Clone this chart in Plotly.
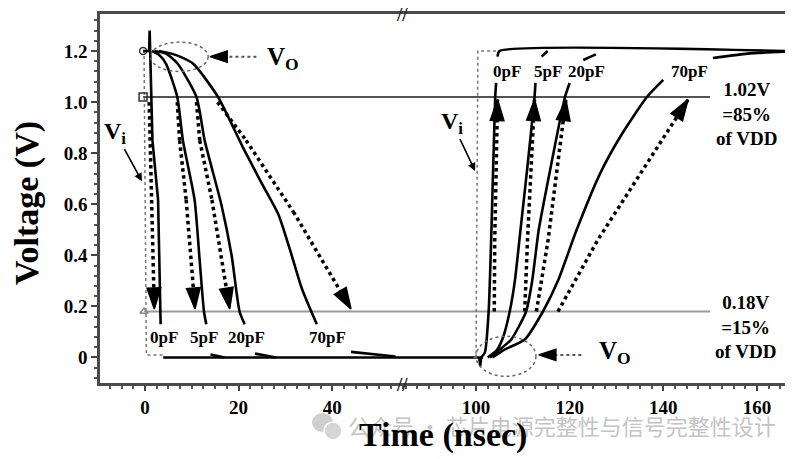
import plotly.graph_objects as go

# ---------------- data (time in ns, voltage in V) ----------------
# falling edge (left panel)
fall_0pF_t = [-0.4, 0.9, 1.0, 1.3, 1.6, 2.8, 3.05, 3.35]
fall_0pF_v = [1.2, 1.2, 1.28, 1.02, 0.85, 0.617, 0.4, 0.13]
fall_5pF_t = [1.5, 3.0, 4.5, 6.9, 8.1, 10.6, 11.6, 12.6, 13.1]
fall_5pF_v = [1.2, 1.185, 1.15, 1.02, 0.85, 0.617, 0.4, 0.18, 0.13]
fall_20pF_t = [2.0, 4.5, 7.0, 11.0, 12.75, 16.3, 18.5, 20.2, 21.3]
fall_20pF_v = [1.2, 1.19, 1.15, 1.02, 0.85, 0.6, 0.4, 0.18, 0.13]
fall_70pF_t = [3.0, 6.5, 10.3, 15.6, 21.0, 25.0, 28.5, 31.0, 33.5, 36.7]
fall_70pF_v = [1.2, 1.185, 1.15, 1.02, 0.82, 0.68, 0.56, 0.42, 0.27, 0.13]

tail_5pF_t = [14.0, 17.0]
tail_5pF_v = [0.012, 0.0]
tail_20pF_t = [23.5, 28.0]
tail_20pF_v = [0.015, 0.0]
tail_70pF_t = [44.0, 53.5]
tail_70pF_v = [0.022, 0.004]

low_t = [3.9, 100.7, 100.9, 101.1, 101.5]
low_v = [0.0, 0.0, -0.035, 0.0, 0.0]

# rising edge (right panel)
rise_0pF_t = [101.1, 101.9, 102.7, 103.3, 104.1, 104.3, None, 104.6, 105.0, 166.0]
rise_0pF_v = [0.0, 0.02, 0.18, 0.5, 1.02, 1.075, None, 1.178, 1.2, 1.2]
rise_5pF_t = [102.5, 104.5, 105.8, 107.2, 108.3, 109.5, 111.0, 112.5, 112.7, None, 114.0, 115.3]
rise_5pF_v = [0.0, 0.03, 0.08, 0.18, 0.3, 0.5, 0.75, 1.02, 1.075, None, 1.178, 1.2]
rise_20pF_t = [103.0, 105.0, 107.5, 110.7, 112.0, 113.4, 116.0, 119.0, 120.0, None, 122.9, 125.6]
rise_20pF_v = [0.0, 0.03, 0.07, 0.18, 0.3, 0.5, 0.75, 1.02, 1.075, None, 1.165, 1.187]
rise_70pF_t = [103.5, 106.0, 110.4, 114.3, 117.5, 121.5, 126.5, 131.0, 136.5, 140.0, None, 150.6, 158.0, 166.0]
rise_70pF_v = [0.0, 0.03, 0.07, 0.18, 0.3, 0.5, 0.72, 0.87, 1.02, 1.087, None, 1.173, 1.19, 1.197]

# input waveforms
vi_fall_t = [-0.4, -0.2, 0.3, 3.8]
vi_fall_v = [1.2, 1.2, 0.01, 0.01]
vi_rise_t = [99.5, 100.0, 100.4, 104.7]
vi_rise_v = [0.0, 0.0, 1.2, 1.2]

# thresholds
thr_hi_t = [-0.4, 150.0]
thr_hi_v = [1.02, 1.02]
thr_lo_t = [-0.2, 150.0]
thr_lo_v = [0.18, 0.18]

# dotted delay arrows
arr_fall = {
    "0pF": ([0.9, 1.5, 2.0], [1.0, 0.6, 0.19]),
    "5pF": ([6.9, 7.4, 8.8, 10.7], [1.0, 0.85, 0.617, 0.19]),
    "20pF": ([11.0, 11.7, 14.3, 18.1], [1.0, 0.85, 0.617, 0.19]),
    "70pF": ([15.5, 21.6, 31.7, 44.0], [1.0, 0.85, 0.57, 0.19]),
}
arr_rise = {
    "0pF": ([103.9, 104.0, 104.6], [0.18, 0.46, 1.01]),
    "5pF": ([110.4, 111.0, 112.5], [0.18, 0.46, 1.01]),
    "20pF": ([112.9, 115.4, 119.2], [0.18, 0.46, 1.01]),
    "70pF": ([117.5, 126.0, 145.3], [0.18, 0.46, 1.01]),
}

cap_labels = ["0pF", "5pF", "20pF", "70pF"]
fall_label_t = [4.1, 12.6, 21.6, 38.9]
rise_label_t = [106.6, 115.4, 123.7, 145.5]
fall_label_v = 0.079
rise_label_v = 1.12

left_ticks = [0, 20, 40]
right_ticks = [100, 120, 140, 160]
y_ticks = [0, 0.2, 0.4, 0.6, 0.8, 1.0, 1.2]
y_tick_text = ["0", "0.2", "0.4", "0.6", "0.8", "1.0", "1.2"]

SERIF = "Liberation Serif, Times New Roman, serif"
BLACK = "#000000"

fig = go.Figure()


def add(t, v, xa, **kw):
    fig.add_trace(go.Scatter(x=t, y=v, xaxis=xa, yaxis="y", showlegend=False,
                             hoverinfo="skip", **kw))


# threshold lines and baseline (both panels)
for xa in ["x", "x2"]:
    add(thr_lo_t, thr_lo_v, xa, mode="lines", line=dict(color="#999999", width=2.2))
    add(thr_hi_t, thr_hi_v, xa, mode="lines", line=dict(color="#1a1a1a", width=1.6))
    add(low_t, low_v, xa, mode="lines", line=dict(color=BLACK, width=2.6))

add(vi_fall_t, vi_fall_v, "x", mode="lines", line=dict(color="#777777", width=1.5, dash="dot"))
add(vi_rise_t, vi_rise_v, "x2", mode="lines", line=dict(color="#777777", width=1.5, dash="dot"))

# start markers
add([thr_hi_t[0]], [thr_hi_v[0]], "x", mode="markers",
    marker=dict(symbol="square-open", size=8, color="#333333", line=dict(width=1.5)))
add([fall_0pF_t[0]], [fall_0pF_v[0]], "x", mode="markers",
    marker=dict(symbol="circle-open", size=7, color="#333333", line=dict(width=1.5)))
add([thr_lo_t[0]], [thr_lo_v[0]], "x", mode="markers",
    marker=dict(symbol="triangle-up-open", size=7, color="#888888", line=dict(width=1.5)))

# output curves
add(fall_0pF_t, fall_0pF_v, "x", mode="lines", line=dict(color=BLACK, width=2.6))
for t, v in [(fall_5pF_t, fall_5pF_v), (fall_20pF_t, fall_20pF_v), (fall_70pF_t, fall_70pF_v)]:
    add(t, v, "x", mode="lines", line=dict(color=BLACK, width=2.6, shape="spline", smoothing=0.6))
for t, v in [(tail_5pF_t, tail_5pF_v), (tail_20pF_t, tail_20pF_v), (tail_70pF_t, tail_70pF_v)]:
    add(t, v, "x", mode="lines", line=dict(color=BLACK, width=2.6))
for t, v in [(rise_0pF_t, rise_0pF_v), (rise_5pF_t, rise_5pF_v),
             (rise_20pF_t, rise_20pF_v), (rise_70pF_t, rise_70pF_v)]:
    add(t, v, "x2", mode="lines", line=dict(color=BLACK, width=2.6, shape="spline", smoothing=0.6))


def dotted_arrow(t, v, xa, color=BLACK, width=3.5, head=22):
    n = len(t)
    add(t, v, xa, mode="lines+markers",
        line=dict(color=color, width=width, dash="dot"),
        marker=dict(symbol="arrow", size=[0] * (n - 1) + [head], angleref="previous",
                    color=BLACK, opacity=1, line=dict(width=1.5, color=BLACK)))


for k in cap_labels:
    dotted_arrow(*arr_fall[k], "x")
    dotted_arrow(*arr_rise[k], "x2")

# arrows pointing to the V_O ellipses
vo_left_arrow_t = [23.8, 13.9]
vo_left_arrow_v = [1.178, 1.178]
vo_right_arrow_t = [122.5, 113.4]
vo_right_arrow_v = [0.01, 0.01]
dotted_arrow(vo_left_arrow_t, vo_left_arrow_v, "x", color="#555555", width=2, head=18)
dotted_arrow(vo_right_arrow_t, vo_right_arrow_v, "x2", color="#555555", width=2, head=18)

# ellipses
fig.add_shape(type="circle", xref="x", yref="y", x0=1.2, x1=13.5, y0=1.12, y1=1.235,
              line=dict(color="#666666", width=1.5, dash="dot"))
fig.add_shape(type="circle", xref="x2", yref="y", x0=100.0, x1=112.8, y0=-0.074, y1=0.083,
              line=dict(color="#666666", width=1.5, dash="dot"))

# annotations
ann = []
lab_font = dict(family=SERIF, size=17, color=BLACK, weight="bold")
for name, t in zip(cap_labels, fall_label_t):
    ann.append(dict(x=t, y=fall_label_v, xref="x", yref="y", text=name, showarrow=False,
                    xanchor="center", yanchor="middle", font=lab_font))
for name, t in zip(cap_labels, rise_label_t):
    ann.append(dict(x=t, y=rise_label_v, xref="x2", yref="y", text=name, showarrow=False,
                    xanchor="center", yanchor="middle", font=lab_font))

big = dict(family=SERIF, size=25, color=BLACK, weight="bold")
ann.append(dict(x=25.6, y=1.17, xref="x", yref="y", text="V<sub>O</sub>", showarrow=False,
                xanchor="left", yanchor="middle", font=big))
ann.append(dict(x=125.9, y=0.02, xref="x2", yref="y", text="V<sub>O</sub>", showarrow=False,
                xanchor="left", yanchor="middle", font=big))
ann.append(dict(x=-0.65, y=0.69, xref="x", yref="y", ax=-6.3, ay=0.88, axref="x", ayref="y",
                text="V<sub>i</sub>", showarrow=True, arrowhead=2, arrowsize=1, arrowwidth=1.6,
                arrowcolor=BLACK, font=dict(family=SERIF, size=24, color=BLACK, weight="bold")))
ann.append(dict(x=99.8, y=0.73, xref="x2", yref="y", ax=94.9, ay=0.92, axref="x2", ayref="y",
                text="V<sub>i</sub>", showarrow=True, arrowhead=2, arrowsize=1, arrowwidth=1.6,
                arrowcolor=BLACK, font=dict(family=SERIF, size=24, color=BLACK, weight="bold")))
side_font = dict(family=SERIF, size=19, color=BLACK, weight="bold")
ann.append(dict(x=157.7, y=0.955, xref="x2", yref="y", text="1.02V<br>=85%<br>of VDD",
                showarrow=False, xanchor="center", yanchor="middle", font=side_font))
ann.append(dict(x=157.5, y=0.12, xref="x2", yref="y", text="0.18V<br>=15%<br>of VDD",
                showarrow=False, xanchor="center", yanchor="middle", font=side_font))
# axis break marks
for yy in [1.0, -0.005]:
    ann.append(dict(x=0.4415, y=yy, xref="paper", yref="paper", text="//", showarrow=False,
                    xanchor="center", yanchor="middle",
                    font=dict(family=SERIF, size=19, color="#222222", weight="bold")))
# watermark
ann.append(dict(x=0.6745, y=-0.114, xref="paper", yref="paper",
                text="公众号 · 芯片电源完整性与信号完整性设计", showarrow=False,
                xanchor="center", yanchor="middle",
                font=dict(family="Noto Sans CJK SC", size=22, color="#c4c4c4")))
# axis titles
ann.append(dict(x=0.5007, y=-0.141, xref="paper", yref="paper", text="Time (nsec)",
                showarrow=False, xanchor="center", yanchor="middle",
                font=dict(family=SERIF, size=34, color=BLACK, weight="bold")))
ann.append(dict(x=-0.1066, y=0.4878, xref="paper", yref="paper", text="Voltage (V)",
                textangle=-90, showarrow=False, xanchor="center", yanchor="middle",
                font=dict(family=SERIF, size=34, color=BLACK, weight="bold")))

# WeChat-like icon beside watermark
fig.add_shape(type="circle", xref="paper", yref="paper", x0=(312 - 100) / 685, x1=(333 - 100) / 685,
              y0=(383 - 432) / 369, y1=(383 - 413) / 369, fillcolor="#cfcfcf", line=dict(width=0))
fig.add_shape(type="circle", xref="paper", yref="paper", x0=(324 - 100) / 685, x1=(342 - 100) / 685,
              y0=(383 - 440) / 369, y1=(383 - 422) / 369, fillcolor="#d6d6d6",
              line=dict(color="white", width=1.5))

tickfont = dict(family=SERIF, size=19, color=BLACK, weight="bold")
axis_common = dict(showline=True, linecolor="#4a4a4a", linewidth=2.5, mirror=True,
                   ticks="outside", ticklen=5, tickwidth=1.5, tickcolor="#444444",
                   showgrid=False, zeroline=False, tickfont=tickfont,
                   minor=dict(ticks="outside", ticklen=3, tickwidth=1.5, tickcolor="#555555", dtick=2.5))
F = 0.4423
fig.update_layout(
    width=807, height=459,
    margin=dict(l=100, r=22, t=14, b=76),
    paper_bgcolor="white", plot_bgcolor="white",
    xaxis=dict(domain=[0, F], range=[-9.6, 55.1], tickvals=left_ticks, anchor="y", **axis_common),
    xaxis2=dict(domain=[F, 1], range=[84.4, 166.0], tickvals=right_ticks, anchor="y", **axis_common),
    yaxis=dict(range=[-0.1, 1.345], anchor="x", tickvals=y_ticks, ticktext=y_tick_text,
               showline=True, linecolor="#4a4a4a", linewidth=2.5, mirror=False,
               ticks="outside", ticklen=6, tickwidth=1.5, tickcolor="#444444",
               showgrid=False, zeroline=False, tickfont=tickfont,
               minor=dict(ticks="outside", ticklen=3, tickwidth=1.5, tickcolor="#555555",
                          dtick=0.04, tick0=0)),
    annotations=ann,
)

fig.write_html("out.html")
